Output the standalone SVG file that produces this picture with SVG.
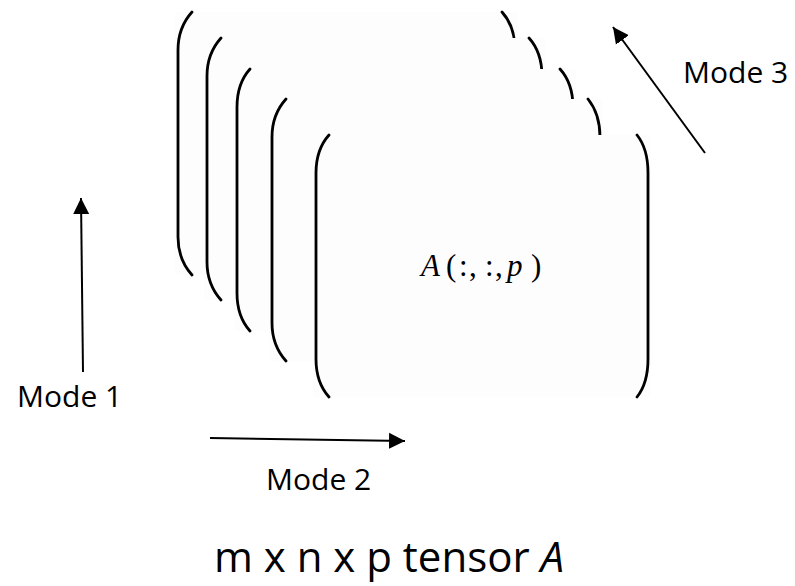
<svg xmlns="http://www.w3.org/2000/svg" width="795" height="586" viewBox="0 0 795 586">
<style>
.sheet{fill:#fdfdfd;stroke:none}
.br{fill:none;stroke:#000;stroke-width:2.8;stroke-linecap:round}
.ar{fill:none;stroke:#000;stroke-width:2}
.lbl{font-family:"Open Sans","DejaVu Sans",sans-serif;fill:#000}
.math{font-family:"Liberation Serif","DejaVu Serif",serif;fill:#000}
</style>
<defs>
<marker id="head" markerUnits="userSpaceOnUse" markerWidth="17" markerHeight="17" viewBox="0 0 17 17" refX="16" refY="8.5" orient="auto">
<path d="M0,0.5 L16,8.5 L0,16.5 Z" fill="#000"/>
</marker>
</defs>
<rect width="795" height="586" fill="#fff"/>
<g id="slice1">
<rect class="sheet" x="175" y="12" width="343" height="263"/>
<path class="br" d="M192,12 C183,22 178,34 178,50 L178,237 C178,253 183,265 192,275"/>
<path class="br" d="M502,12 C511,22 515,34 515,50 L515,237 C515,253 511,265 502,275"/>
</g>
<g id="slice2">
<rect class="sheet" x="204" y="38" width="341" height="262"/>
<path class="br" d="M221,38 C212,48 207,60 207,76 L207,262 C207,278 212,290 221,300"/>
<path class="br" d="M529,38 C538,48 542,60 542,76 L542,262 C542,278 538,290 529,300"/>
</g>
<g id="slice3">
<rect class="sheet" x="234" y="69" width="342" height="262"/>
<path class="br" d="M250,69 C241,79 237,91 237,107 L237,293 C237,309 241,321 250,331"/>
<path class="br" d="M560,69 C569,79 573,91 573,107 L573,293 C573,309 569,321 560,331"/>
</g>
<g id="slice4">
<rect class="sheet" x="269" y="99" width="334" height="262"/>
<path class="br" d="M286,99 C277,109 272,121 272,137 L272,323 C272,339 277,351 286,361"/>
<path class="br" d="M588,99 C596,109 600,121 600,137 L600,323 C600,339 596,351 588,361"/>
</g>
<g id="slice5">
<rect class="sheet" x="313" y="135" width="338" height="262"/>
<path class="br" d="M329,135 C320,145 316,157 316,173 L316,359 C316,375 320,387 329,397"/>
<path class="br" d="M637,135 C645,145 648,157 648,173 L648,359 C648,375 645,387 637,397"/>
<text class="math" y="276" font-size="31"><tspan x="421" font-style="italic">A</tspan><tspan x="446">(</tspan><tspan x="459">:</tspan><tspan x="469">,</tspan><tspan x="485">:</tspan><tspan x="495">,</tspan><tspan x="507" font-style="italic">p</tspan><tspan x="531">)</tspan></text>
</g>
<g id="connectors">
<line class="ar" x1="83" y1="372" x2="81" y2="198" marker-end="url(#head)"/>
<line class="ar" x1="210" y1="438" x2="405" y2="441" marker-end="url(#head)"/>
<line class="ar" x1="705" y1="153" x2="613" y2="27" marker-end="url(#head)"/>
</g>
<g id="labels">
<text class="lbl" x="17" y="407" font-size="30">Mode 1</text>
<text class="lbl" x="266" y="490" font-size="30">Mode 2</text>
<text class="lbl" x="683" y="83" font-size="30">Mode 3</text>
<text class="lbl" x="214" y="572" font-size="42">m x n x p tensor <tspan font-style="italic">A</tspan></text>
</g>
</svg>
